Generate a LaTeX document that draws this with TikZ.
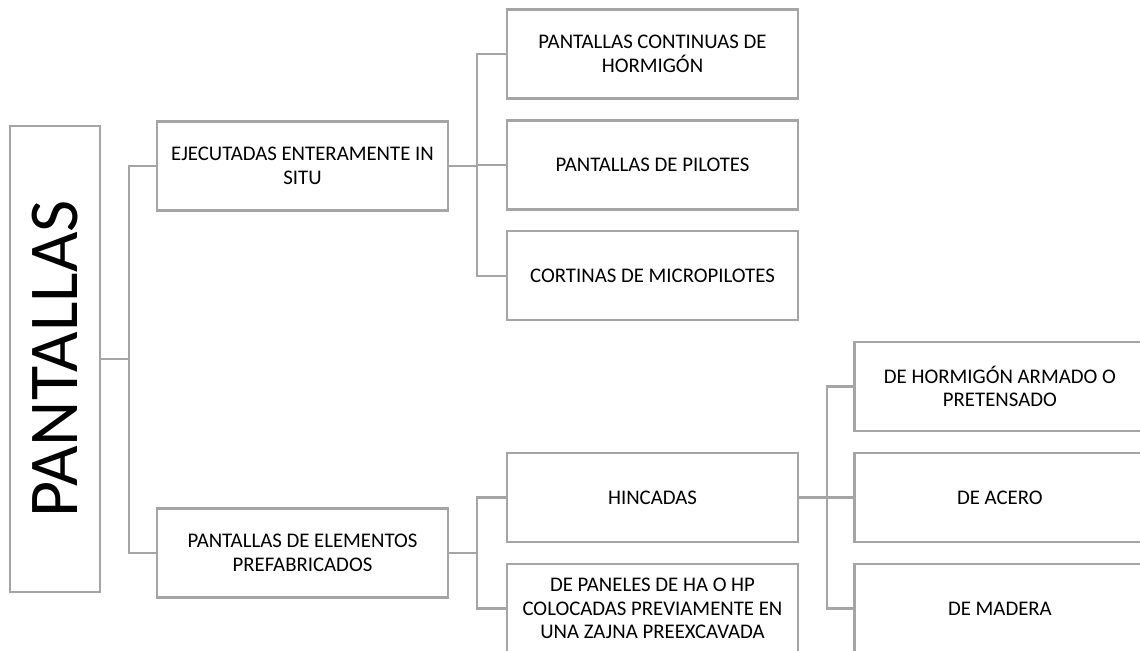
\documentclass[tikz,border=0pt]{standalone}
\usepackage{fontspec}
\setmainfont{Carlito}
\usepackage{xcolor}
\usepackage{tikz}
\usetikzlibrary{positioning}
\definecolor{boxgray}{RGB}{165,165,165}

\begin{document}
\begin{tikzpicture}[
  x=0.5pt,y=-0.5pt,
  node distance=9.75pt and 27pt,
  item/.style={rectangle,draw=boxgray,line width=1.2pt,fill=white,
    minimum width=145.5pt,minimum height=44.5pt,inner sep=2pt,
    align=center,font=\fontsize{10.4}{11.7}\selectfont,text=black},
  rootbox/.style={rectangle,draw=boxgray,line width=1.2pt,
    minimum width=45pt,minimum height=233pt,inner sep=0pt},
  link/.style={draw=boxgray,line width=1.2pt}
]
\useasboundingbox (0,0) rectangle (1140,651);
\node[rootbox] (root) at (55,359) {};
\node[rotate=90,font=\fontsize{35}{35}\selectfont] (roottxt) at (root.center) {PANTALLAS};
\node[item] (ejec) at (302.5,166) {EJECUTADAS ENTERAMENTE IN\\SITU};
\node[item] (pref) at (302.5,553) {PANTALLAS DE ELEMENTOS\\PREFABRICADOS};
\node[item] (cont) at (652.5,54) {PANTALLAS CONTINUAS DE\\HORMIGÓN};
\node[item,below=of cont] (pil) {PANTALLAS DE PILOTES};
\node[item,below=of pil] (micro) {CORTINAS DE MICROPILOTES};
\node[item] (hinc) at (652.5,497.5) {HINCADAS};
\node[item,below=of hinc] (panel) {DE PANELES DE HA O HP\\COLOCADAS PREVIAMENTE EN\\UNA ZAJNA PREEXCAVADA};
\node[item,right=of hinc] (acero) {DE ACERO};
\node[item,above=of acero] (horm) {DE HORMIGÓN ARMADO O\\PRETENSADO};
\node[item,below=of acero] (madera) {DE MADERA};
\draw[link] (root.east) -- ++(14pt,0) coordinate (j0);
\draw[link] (j0) |- (ejec.west);
\draw[link] (j0) |- (pref.west);
\draw[link] (ejec.east) -- ++(14pt,0) coordinate (j1);
\draw[link] (j1) |- (cont.west);
\draw[link] (j1) |- (pil.west);
\draw[link] (j1) |- (micro.west);
\draw[link] (pref.east) -- ++(14pt,0) coordinate (j2);
\draw[link] (j2) |- (hinc.west);
\draw[link] (j2) |- (panel.west);
\draw[link] (hinc.east) -- ++(14pt,0) coordinate (j3);
\draw[link] (j3) |- (horm.west);
\draw[link] (j3) |- (acero.west);
\draw[link] (j3) |- (madera.west);
\end{tikzpicture}
\end{document}
